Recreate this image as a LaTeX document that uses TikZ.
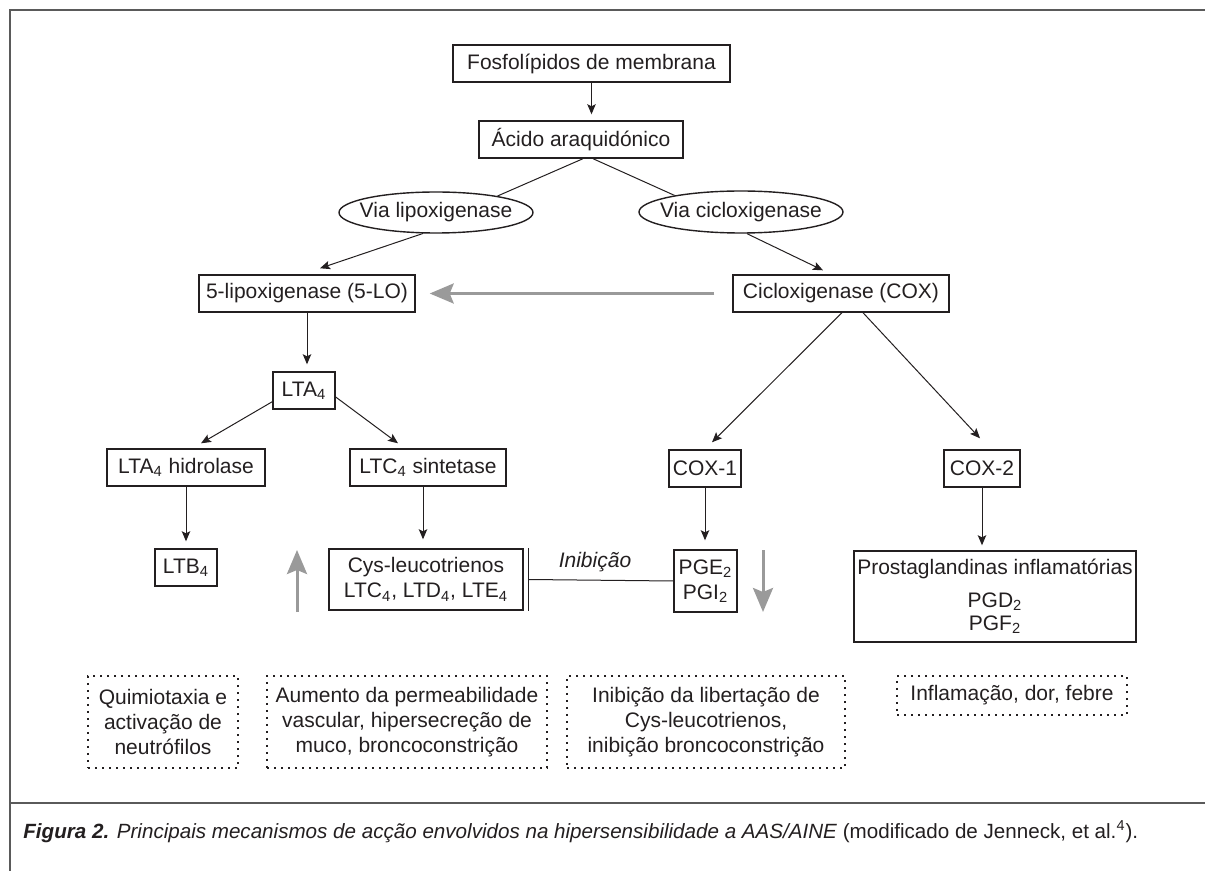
\documentclass[tikz,border=0pt]{standalone}
\usepackage{fontspec}
\setmainfont{Liberation Sans}
\usetikzlibrary{shapes.geometric,calc,arrows.meta}
\definecolor{ink}{HTML}{231F20}
\definecolor{graytone}{HTML}{9A9A9A}
\definecolor{framegray}{HTML}{5A5A5A}
\begin{document}
\begin{tikzpicture}[x=0.5pt,y=-0.5pt,
  font=\fontsize{10.5}{12.5}\selectfont,
  box/.style={draw=ink, line width=0.7pt, inner sep=0pt, align=center, text=ink},
  oval/.style={ellipse, draw=ink, line width=0.7pt, inner sep=0pt, text=ink},
  dbox/.style={draw=ink, line width=0.8pt, dash pattern=on 0.8pt off 2.7pt, inner sep=0pt, align=center, text=ink},
  arr/.style={draw=ink, line width=0.5pt, -{Stealth[length=5pt,width=4.2pt,inset=1pt]}},
  link/.style={draw=ink, line width=0.5pt},
  garr/.style={draw=graytone, line width=1.5pt, -{Stealth[length=12pt,width=10pt,inset=2pt]}},
  frame/.style={draw=framegray, line width=1pt}]
\useasboundingbox (0,0) rectangle (1205,871);
% frame
\draw[frame, line width=1.2pt] (1205,10) -- (10,10) -- (10,871);
\draw[frame, line width=0.8pt] (10,803) -- (1205,803);
% nodes
\node[box, minimum width=138.5pt, minimum height=18.5pt] (fos) at (591.5,63.5) {Fosfolípidos de membrana};
\node[box, minimum width=102pt, minimum height=18.5pt] (acido) at (581,139.5) {Ácido araquidónico};
\node[oval, minimum width=97pt, minimum height=20.5pt] (vlip) at (436,212.5) {\makebox[0pt]{Via lipoxigenase}};
\node[oval, minimum width=102pt, minimum height=21pt] (vcic) at (741,212) {\makebox[0pt]{Via cicloxigenase}};
\node[box, minimum width=108pt, minimum height=18.5pt] (lo5) at (307,293.5) {5-lipoxigenase (5-LO)};
\node[box, minimum width=108pt, minimum height=18.5pt] (cox) at (841,293.5) {Cicloxigenase (COX)};
\node[box, minimum width=31pt, minimum height=18.5pt] (lta4) at (304,390.5) {LTA\textsubscript{4}};
\node[box, minimum width=79pt, minimum height=18.5pt] (lta4h) at (186,467.5) {LTA\textsubscript{4} hidrolase};
\node[box, minimum width=78pt, minimum height=18.5pt] (ltc4s) at (428,467.5) {LTC\textsubscript{4} sintetase};
\node[box, minimum width=36pt, minimum height=18.5pt] (cox1) at (705,468.5) {COX-1};
\node[box, minimum width=38pt, minimum height=18.5pt] (cox2) at (982,468.5) {COX-2};
\node[box, minimum width=31pt, minimum height=18.5pt] (ltb4) at (186,567.5) {LTB\textsubscript{4}};
\node[box, minimum width=97pt, minimum height=30.5pt] (cys) at (426,579.5) {Cys-leucotrienos\\LTC\textsubscript{4}, LTD\textsubscript{4}, LTE\textsubscript{4}};
\node[box, minimum width=31.5pt, minimum height=31pt] (pge) at (705.5,581) {PGE\textsubscript{2}\\PGI\textsubscript{2}};
\node[box, minimum width=141pt, minimum height=45.5pt] (prost) at (995,596.5) {Prostaglandinas inflamatórias\\[4pt]PGD\textsubscript{2}\\[-1pt]PGF\textsubscript{2}};
\node[dbox, minimum width=75pt, minimum height=46pt] (quim) at (163,722) {Quimiotaxia e\\activação de\\neutrófilos};
\node[dbox, minimum width=140pt, minimum height=46pt] (aum) at (407,722) {Aumento da permeabilidade\\vascular, hipersecreção de\\muco, broncoconstrição};
\node[dbox, minimum width=139pt, minimum height=46pt] (inib) at (706,722) {Inibição da libertação de\\Cys-leucotrienos,\\inibição broncoconstrição};
\node[dbox, minimum width=115pt, minimum height=19.5pt] (infl) at (1012,695.5) {Inflamação, dor, febre};
\node[text=ink, font=\fontsize{10.5}{12.5}\selectfont\itshape] (lbl) at (595,562) {Inibição};
% connectors
\draw[arr] (fos.south) -- ($(fos.south |- acido.north)+(0,-6)$);
\draw[link] ($(acido.south)+(2,0)$) -- (vlip.15);
\draw[link] ($(acido.south)+(12,0)$) -- (vcic.166);
\draw[arr] (vlip.238) -- ($(lo5.north)+(13,-6)$);
\draw[arr] ($(vcic.south)+(6,0)$) -- ($(cox.north)+(-18,-4)$);
\draw[garr] ($(cox.west)+(-18,0)$) -- ($(lo5.east)+(14,0)$);
\draw[arr] (lo5.south) -- ($(lo5.south |- lta4.north)+(0,-7)$);
\draw[arr] ($(lta4.south west)+(0,-8)$) -- ($(lta4h.north)+(15,-5)$);
\draw[arr] ($(lta4.east)+(0,6.5)$) -- ($(ltc4s.north)+(-30,-5)$);
\draw[arr] (lta4h.south) -- ($(ltb4.north)+(0,-7)$);
\draw[arr] ($(ltc4s.south)+(-5,0)$) -- ($(ltc4s.south |- cys.north)+(-5,-9)$);
\draw[arr] ($(cox.south)+(1,0)$) -- ($(cox1.north)+(7,-7)$);
\draw[arr] ($(cox.south)+(22,0)$) -- ($(cox2.north)+(-2,-11)$);
\draw[arr] (cox1.south) -- ($(cox1.south |- pge.north)+(0,-9)$);
\draw[arr] (cox2.south) -- ($(cox2.south |- prost.north)+(0,-5)$);
% inhibition
\draw[link, line width=0.6pt] ($(cys.north east)+(5,0)$) -- ($(cys.south east)+(5,0)$);
\draw[link] ($(cys.east)+(5,0)$) -- (pge.west);
% gray arrows
\coordinate (upA) at (297,612);
\coordinate (upB) at (297,550);
\coordinate (dnA) at (763,550);
\coordinate (dnB) at (763,612);
\draw[garr] (upA) -- (upB);
\draw[garr] (dnA) -- (dnB);
% caption
\node[anchor=base west, inner sep=0pt, text=ink, font=\fontsize{10.3}{12}\selectfont] (cap) at (23,838) {{\bfseries\itshape Figura 2.} {\itshape Principais mecanismos de acção envolvidos na hipersensibilidade a AAS/AINE} (modificado de Jenneck, et al.\textsuperscript{4}).};
\end{tikzpicture}
\end{document}
